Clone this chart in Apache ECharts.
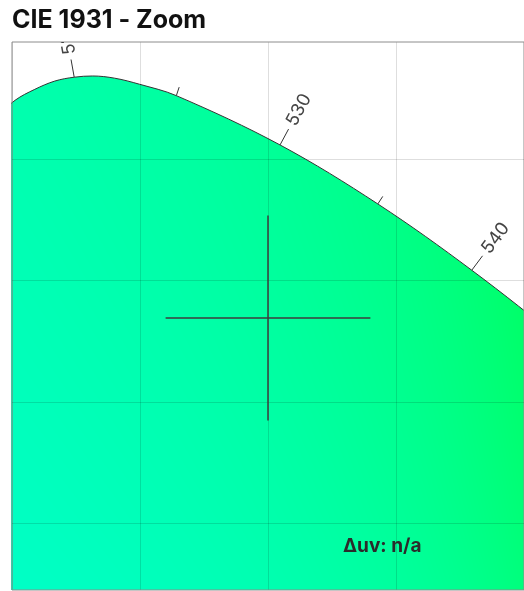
<!DOCTYPE html>
<html>
<head>
<meta charset="utf-8">
<script src="https://cdn.jsdelivr.net/npm/echarts@6/dist/echarts.min.js"></script>
<style>
html, body { margin: 0; padding: 0; background: #fff; }
#main { width: 524px; height: 591px; }
</style>
</head>
<body>
<div id="main"></div>
<script>
// spectral locus points (CIE 1931 x, y)
var locusX = [0.0139, 0.0389, 0.0450, 0.0512, 0.0589, 0.0667, 0.0743, 0.0815, 0.0901, 0.0998, 0.1142, 0.1547, 0.1929, 0.2296, 0.2658, 0.3016];
var locusY = [0.7502, 0.8120, 0.8182, 0.8243, 0.8288, 0.8322, 0.8338, 0.8343, 0.8334, 0.8309, 0.8262, 0.8059, 0.7816, 0.7543, 0.7243, 0.6923];

// wavelength ticks along the locus
var tickNm = [515, 520, 525, 530, 535, 540, 545];
var tickX = [0.0389, 0.0743, 0.1142, 0.1547, 0.1929, 0.2296, 0.2658];
var tickY = [0.8120, 0.8338, 0.8262, 0.8059, 0.7816, 0.7543, 0.7243];

// horizontal grid values
var yGrid = [0.65, 0.70, 0.75, 0.80];

// crosshair target point
var targetX = [0.15];
var targetY = [0.7346];

var xRange = [0.05, 0.25];
var yRange = [0.6226, 0.8483];

var myChart = echarts.init(document.getElementById('main'));

function renderTick(params, api) {
    var i = params.dataIndex;
    var n = tickNm.length;
    var p = api.coord([tickX[i], tickY[i]]);
    var a = api.coord([tickX[Math.max(i - 1, 0)], tickY[Math.max(i - 1, 0)]]);
    var b = api.coord([tickX[Math.min(i + 1, n - 1)], tickY[Math.min(i + 1, n - 1)]]);
    var tx = b[0] - a[0], ty = b[1] - a[1];
    var len = Math.sqrt(tx * tx + ty * ty);
    tx /= len; ty /= len;
    var nx = ty, ny = -tx;
    if (ny > 0) { nx = -nx; ny = -ny; }
    var major = tickNm[i] % 10 === 0;
    var L = major ? 18 : 9;
    var children = [{
        type: 'line',
        shape: { x1: p[0], y1: p[1], x2: p[0] + nx * L, y2: p[1] + ny * L },
        style: { stroke: '#333', lineWidth: 1 }
    }];
    if (major) {
        children.push({
            type: 'text',
            x: p[0] + nx * (L + 5),
            y: p[1] + ny * (L + 5),
            rotation: Math.atan2(-ny, nx),
            style: {
                text: String(tickNm[i]),
                fill: '#444',
                fontSize: 18,
                fontFamily: 'Inter',
                align: 'left',
                verticalAlign: 'middle'
            }
        });
    }
    return { type: 'group', children: children };
}

function renderCross(params, api) {
    var i = params.dataIndex;
    var h1 = api.coord([targetX[i] - 0.04, targetY[i]]);
    var h2 = api.coord([targetX[i] + 0.04, targetY[i]]);
    var v1 = api.coord([targetX[i], targetY[i] + 0.0422]);
    var v2 = api.coord([targetX[i], targetY[i] - 0.0422]);
    var st = { stroke: '#3c3c3c', lineWidth: 1.5 };
    return {
        type: 'group',
        children: [
            { type: 'line', shape: { x1: h1[0], y1: h1[1], x2: h2[0], y2: h2[1] }, style: st },
            { type: 'line', shape: { x1: v1[0], y1: v1[1], x2: v2[0], y2: v2[1] }, style: st }
        ]
    };
}

var option = {
    animation: false,
    title: {
        text: 'CIE 1931 - Zoom',
        left: 12,
        top: 8,
        padding: 0,
        textStyle: { fontFamily: 'Inter', fontWeight: 'bold', fontSize: 25, color: '#111' }
    },
    grid: {
        left: 12, top: 42, width: 514, height: 548,
        show: true, borderColor: '#8c8c8c', borderWidth: 1,
        backgroundColor: 'transparent', z: 4
    },
    xAxis: {
        type: 'value', min: xRange[0], max: xRange[1], interval: 0.05,
        axisLine: { show: false }, axisTick: { show: false }, axisLabel: { show: false },
        splitLine: { show: true, lineStyle: { color: 'rgba(0,0,0,0.13)', width: 1 } },
        z: 3
    },
    yAxis: {
        type: 'value', min: yRange[0], max: yRange[1],
        axisLine: { show: false }, axisTick: { show: false }, axisLabel: { show: false },
        splitLine: { show: false },
        z: 3
    },
    graphic: [{
        type: 'text',
        left: 343, top: 537,
        style: { text: 'Δuv: n/a', fontFamily: 'Inter', fontWeight: 'bold', fontSize: 19, fill: '#2b2b2b' },
        z: 10
    }],
    series: [
        {
            type: 'line',
            data: locusX.map(function (x, i) { return [x, locusY[i]]; }),
            showSymbol: false,
            smooth: 0.35,
            clip: true,
            lineStyle: { color: '#333', width: 1 },
            areaStyle: { color: '#00ff99', opacity: 1, origin: 'start' },
            // y min is not a multiple of 0.05, so horizontal grid lines go here
            markLine: {
                silent: true, symbol: 'none', label: { show: false },
                lineStyle: { color: 'rgba(0,0,0,0.13)', width: 1, type: 'solid' },
                data: yGrid.map(function (v) { return { yAxis: v }; })
            },
            z: 1
        },
        {
            type: 'custom',
            renderItem: renderTick,
            data: tickNm.map(function (w, i) { return [tickX[i], tickY[i]]; }),
            encode: { x: 0, y: 1 },
            clip: true,
            z: 5
        },
        {
            type: 'custom',
            renderItem: renderCross,
            data: targetX.map(function (x, i) { return [x, targetY[i]]; }),
            encode: { x: 0, y: 1 },
            clip: true,
            z: 5
        }
    ]
};

myChart.setOption(option);

// chromaticity colour field used as the area fill pattern
function chromaColor(x, y) {
    var X = x / y, Z = (1 - x - y) / y;
    var r = 3.2406 * X - 1.5372 - 0.4986 * Z;
    var g = -0.9689 * X + 1.8758 + 0.0415 * Z;
    var b = 0.0557 * X - 0.2040 + 1.0570 * Z;
    var m = Math.min(r, g, b, 0);
    r -= m; g -= m; b -= m;
    var mx = Math.max(r, g, b);
    return [r / mx, g / mx, b / mx].map(function (c) {
        c = c <= 0.0031308 ? 12.92 * c : 1.055 * Math.pow(c, 1 / 2.4) - 0.055;
        return Math.round(Math.max(0, Math.min(1, c)) * 255);
    });
}

var W = myChart.getWidth(), H = myChart.getHeight();
var p0 = myChart.convertToPixel({ gridIndex: 0 }, [xRange[0], yRange[0]]);
var p1 = myChart.convertToPixel({ gridIndex: 0 }, [xRange[1], yRange[1]]);
var fieldCanvas = document.createElement('canvas');
fieldCanvas.width = W;
fieldCanvas.height = H;
var fctx = fieldCanvas.getContext('2d');
var img = fctx.createImageData(W, H);
for (var py = 0; py < H; py++) {
    var yv = yRange[0] + (py + 0.5 - p0[1]) / (p1[1] - p0[1]) * (yRange[1] - yRange[0]);
    for (var px = 0; px < W; px++) {
        var xv = xRange[0] + (px + 0.5 - p0[0]) / (p1[0] - p0[0]) * (xRange[1] - xRange[0]);
        var c = chromaColor(xv, yv);
        var k = (py * W + px) * 4;
        img.data[k] = c[0]; img.data[k + 1] = c[1]; img.data[k + 2] = c[2]; img.data[k + 3] = 255;
    }
}
fctx.putImageData(img, 0, 0);

myChart.setOption({
    series: [{ areaStyle: { color: { image: fieldCanvas, repeat: 'no-repeat' } } }]
});
</script>
</body>
</html>
